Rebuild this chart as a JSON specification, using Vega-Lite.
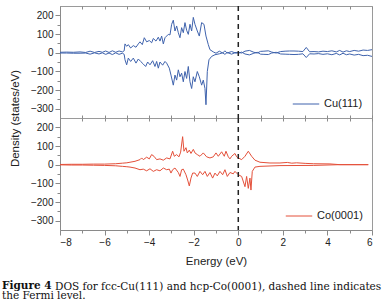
{
  "$schema": "https://vega.github.io/schema/vega-lite/v6.json",
  "padding": {"left": 1, "top": 4, "right": 12, "bottom": 2},
  "background": "white",
  "bounds": "flush",
  "datasets": {
    "cu": [
      {"s":"up","E":-8,"v":2},{"s":"up","E":-7.7,"v":3},{"s":"up","E":-7.4,"v":2},{"s":"up","E":-7.1,"v":4},{"s":"up","E":-6.85,"v":1},{"s":"up","E":-6.65,"v":8},{"s":"up","E":-6.45,"v":1},{"s":"up","E":-6.25,"v":7},{"s":"up","E":-6.1,"v":2},{"s":"up","E":-5.95,"v":9},{"s":"up","E":-5.8,"v":1},{"s":"up","E":-5.65,"v":10},{"s":"up","E":-5.5,"v":2},{"s":"up","E":-5.35,"v":9},{"s":"up","E":-5.2,"v":4},{"s":"up","E":-5.12,"v":10},
      {"s":"up","E":-5.084,"v":47},{"s":"up","E":-5.009,"v":34},{"s":"up","E":-4.935,"v":43},{"s":"up","E":-4.83,"v":25},{"s":"up","E":-4.71,"v":38},{"s":"up","E":-4.59,"v":29},{"s":"up","E":-4.486,"v":47},{"s":"up","E":-4.411,"v":58},{"s":"up","E":-4.307,"v":43},{"s":"up","E":-4.217,"v":80},{"s":"up","E":-4.112,"v":58},{"s":"up","E":-3.992,"v":65},{"s":"up","E":-3.887,"v":53},{"s":"up","E":-3.813,"v":76},{"s":"up","E":-3.693,"v":62},{"s":"up","E":-3.588,"v":83},{"s":"up","E":-3.514,"v":62},{"s":"up","E":-3.439,"v":89},{"s":"up","E":-3.364,"v":47},{"s":"up","E":-3.289,"v":80},{"s":"up","E":-3.215,"v":89},{"s":"up","E":-3.14,"v":98},{"s":"up","E":-3.065,"v":95},{"s":"up","E":-2.99,"v":152},{"s":"up","E":-2.916,"v":174},{"s":"up","E":-2.841,"v":116},{"s":"up","E":-2.766,"v":143},{"s":"up","E":-2.691,"v":107},{"s":"up","E":-2.617,"v":80},{"s":"up","E":-2.542,"v":134},{"s":"up","E":-2.467,"v":107},{"s":"up","E":-2.392,"v":161},{"s":"up","E":-2.318,"v":120},{"s":"up","E":-2.243,"v":98},{"s":"up","E":-2.168,"v":152},{"s":"up","E":-2.093,"v":116},{"s":"up","E":-2.019,"v":189},{"s":"up","E":-1.944,"v":152},{"s":"up","E":-1.839,"v":116},{"s":"up","E":-1.749,"v":89},{"s":"up","E":-1.644,"v":161},{"s":"up","E":-1.54,"v":152},{"s":"up","E":-1.45,"v":89},{"s":"up","E":-1.345,"v":43},{"s":"up","E":-1.271,"v":16},{"s":"up","E":-1.121,"v":4},
      {"s":"up","E":-1.0,"v":-3},{"s":"up","E":-0.85,"v":8},{"s":"up","E":-0.7,"v":-2},{"s":"up","E":-0.6,"v":10},{"s":"up","E":-0.5,"v":-2},{"s":"up","E":-0.3,"v":6},{"s":"up","E":-0.1,"v":-3},{"s":"up","E":0.0,"v":2},{"s":"up","E":0.15,"v":-2},{"s":"up","E":0.3,"v":8},{"s":"up","E":0.5,"v":12},{"s":"up","E":0.7,"v":2},{"s":"up","E":0.85,"v":-2},{"s":"up","E":1.0,"v":7},{"s":"up","E":1.15,"v":8},{"s":"up","E":1.35,"v":10},{"s":"up","E":1.5,"v":3},{"s":"up","E":1.7,"v":-2},{"s":"up","E":1.9,"v":6},{"s":"up","E":2.1,"v":8},{"s":"up","E":2.3,"v":9},{"s":"up","E":2.5,"v":9},{"s":"up","E":2.7,"v":8},{"s":"up","E":2.9,"v":6},{"s":"up","E":3.05,"v":28},{"s":"up","E":3.2,"v":5},{"s":"up","E":3.4,"v":6},{"s":"up","E":3.6,"v":4},{"s":"up","E":3.8,"v":8},{"s":"up","E":4.0,"v":6},{"s":"up","E":4.2,"v":10},{"s":"up","E":4.4,"v":4},{"s":"up","E":4.55,"v":12},{"s":"up","E":4.7,"v":3},{"s":"up","E":4.85,"v":10},{"s":"up","E":5.0,"v":6},{"s":"up","E":5.2,"v":12},{"s":"up","E":5.4,"v":8},{"s":"up","E":5.6,"v":14},{"s":"up","E":5.8,"v":12},{"s":"up","E":6.0,"v":16},
      {"s":"dn","E":-8,"v":-2},{"s":"dn","E":-7.7,"v":-2},{"s":"dn","E":-7.4,"v":-3},{"s":"dn","E":-7.1,"v":-3},{"s":"dn","E":-6.85,"v":-2},{"s":"dn","E":-6.65,"v":-8},{"s":"dn","E":-6.45,"v":-1},{"s":"dn","E":-6.25,"v":-7},{"s":"dn","E":-6.1,"v":-1},{"s":"dn","E":-5.95,"v":-9},{"s":"dn","E":-5.8,"v":-2},{"s":"dn","E":-5.65,"v":-10},{"s":"dn","E":-5.5,"v":-1},{"s":"dn","E":-5.35,"v":-9},{"s":"dn","E":-5.2,"v":-3},{"s":"dn","E":-5.12,"v":-9},
      {"s":"dn","E":-5.084,"v":-38},{"s":"dn","E":-5.009,"v":-65},{"s":"dn","E":-4.935,"v":-29},{"s":"dn","E":-4.83,"v":-47},{"s":"dn","E":-4.71,"v":-29},{"s":"dn","E":-4.59,"v":-56},{"s":"dn","E":-4.486,"v":-34},{"s":"dn","E":-4.381,"v":-47},{"s":"dn","E":-4.262,"v":-61},{"s":"dn","E":-4.157,"v":-74},{"s":"dn","E":-4.067,"v":-50},{"s":"dn","E":-3.962,"v":-65},{"s":"dn","E":-3.843,"v":-43},{"s":"dn","E":-3.738,"v":-74},{"s":"dn","E":-3.663,"v":-47},{"s":"dn","E":-3.588,"v":-83},{"s":"dn","E":-3.514,"v":-50},{"s":"dn","E":-3.394,"v":-67},{"s":"dn","E":-3.289,"v":-47},{"s":"dn","E":-3.215,"v":-56},{"s":"dn","E":-3.095,"v":-83},{"s":"dn","E":-3.02,"v":-120},{"s":"dn","E":-2.916,"v":-174},{"s":"dn","E":-2.841,"v":-120},{"s":"dn","E":-2.766,"v":-147},{"s":"dn","E":-2.691,"v":-92},{"s":"dn","E":-2.617,"v":-129},{"s":"dn","E":-2.542,"v":-110},{"s":"dn","E":-2.467,"v":-156},{"s":"dn","E":-2.392,"v":-101},{"s":"dn","E":-2.318,"v":-138},{"s":"dn","E":-2.243,"v":-74},{"s":"dn","E":-2.168,"v":-156},{"s":"dn","E":-2.093,"v":-192},{"s":"dn","E":-2.019,"v":-129},{"s":"dn","E":-1.944,"v":-156},{"s":"dn","E":-1.839,"v":-101},{"s":"dn","E":-1.749,"v":-129},{"s":"dn","E":-1.644,"v":-174},{"s":"dn","E":-1.57,"v":-147},{"s":"dn","E":-1.495,"v":-192},{"s":"dn","E":-1.45,"v":-279},{"s":"dn","E":-1.39,"v":-101},{"s":"dn","E":-1.315,"v":-38},{"s":"dn","E":-1.196,"v":-20},{"s":"dn","E":-1.046,"v":-11},
      {"s":"dn","E":-0.85,"v":-6},{"s":"dn","E":-0.7,"v":-1},{"s":"dn","E":-0.6,"v":-9},{"s":"dn","E":-0.5,"v":1},{"s":"dn","E":-0.3,"v":-8},{"s":"dn","E":-0.1,"v":2},{"s":"dn","E":0.0,"v":-3},{"s":"dn","E":0.15,"v":3},{"s":"dn","E":0.3,"v":-7},{"s":"dn","E":0.5,"v":-12},{"s":"dn","E":0.7,"v":-3},{"s":"dn","E":0.85,"v":2},{"s":"dn","E":1.0,"v":-8},{"s":"dn","E":1.15,"v":-9},{"s":"dn","E":1.35,"v":-10},{"s":"dn","E":1.5,"v":-2},{"s":"dn","E":1.7,"v":2},{"s":"dn","E":1.9,"v":-7},{"s":"dn","E":2.1,"v":-8},{"s":"dn","E":2.3,"v":-9},{"s":"dn","E":2.5,"v":-10},{"s":"dn","E":2.7,"v":-9},{"s":"dn","E":2.9,"v":-6},{"s":"dn","E":3.05,"v":-26},{"s":"dn","E":3.2,"v":-6},{"s":"dn","E":3.4,"v":-7},{"s":"dn","E":3.6,"v":-5},{"s":"dn","E":3.8,"v":-9},{"s":"dn","E":4.0,"v":-6},{"s":"dn","E":4.2,"v":-11},{"s":"dn","E":4.4,"v":-4},{"s":"dn","E":4.55,"v":-12},{"s":"dn","E":4.7,"v":-3},{"s":"dn","E":4.85,"v":-11},{"s":"dn","E":5.0,"v":-7},{"s":"dn","E":5.2,"v":-13},{"s":"dn","E":5.4,"v":-9},{"s":"dn","E":5.6,"v":-16},{"s":"dn","E":5.8,"v":-14},{"s":"dn","E":6.0,"v":-20}
    ],
    "co": [
      {"s":"up","E":-8,"v":1},{"s":"up","E":-7.5,"v":2},{"s":"up","E":-7,"v":2},{"s":"up","E":-6.5,"v":3},{"s":"up","E":-6,"v":3},{"s":"up","E":-5.5,"v":5},{"s":"up","E":-5.2,"v":8},{"s":"up","E":-5.0,"v":10},
      {"s":"up","E":-4.86,"v":13},{"s":"up","E":-4.635,"v":18},{"s":"up","E":-4.411,"v":27},{"s":"up","E":-4.336,"v":36},{"s":"up","E":-4.261,"v":27},{"s":"up","E":-4.112,"v":40},{"s":"up","E":-3.992,"v":31},{"s":"up","E":-3.888,"v":54},{"s":"up","E":-3.783,"v":45},{"s":"up","E":-3.663,"v":27},{"s":"up","E":-3.514,"v":31},{"s":"up","E":-3.364,"v":24},{"s":"up","E":-3.215,"v":36},{"s":"up","E":-3.065,"v":31},{"s":"up","E":-2.945,"v":72},{"s":"up","E":-2.871,"v":45},{"s":"up","E":-2.766,"v":54},{"s":"up","E":-2.661,"v":42},{"s":"up","E":-2.587,"v":67},{"s":"up","E":-2.497,"v":150},{"s":"up","E":-2.437,"v":72},{"s":"up","E":-2.347,"v":91},{"s":"up","E":-2.287,"v":63},{"s":"up","E":-2.198,"v":78},{"s":"up","E":-2.123,"v":60},{"s":"up","E":-2.018,"v":82},{"s":"up","E":-1.943,"v":63},{"s":"up","E":-1.839,"v":54},{"s":"up","E":-1.719,"v":45},{"s":"up","E":-1.57,"v":63},{"s":"up","E":-1.42,"v":42},{"s":"up","E":-1.271,"v":36},{"s":"up","E":-1.121,"v":42},{"s":"up","E":-1.001,"v":63},{"s":"up","E":-0.897,"v":45},{"s":"up","E":-0.747,"v":69},{"s":"up","E":-0.628,"v":45},{"s":"up","E":-0.553,"v":72},{"s":"up","E":-0.448,"v":42},{"s":"up","E":-0.373,"v":31},{"s":"up","E":-0.298,"v":45},{"s":"up","E":-0.149,"v":60},{"s":"up","E":-0.074,"v":42},{"s":"up","E":0.0,"v":36},{"s":"up","E":0.15,"v":27},{"s":"up","E":0.3,"v":45},{"s":"up","E":0.449,"v":72},{"s":"up","E":0.599,"v":45},{"s":"up","E":0.748,"v":24},{"s":"up","E":0.973,"v":13},{"s":"up","E":1.421,"v":9},{"s":"up","E":1.87,"v":9},{"s":"up","E":2.2,"v":12},{"s":"up","E":2.4,"v":8},{"s":"up","E":2.618,"v":10},{"s":"up","E":3.0,"v":7},{"s":"up","E":3.366,"v":5},{"s":"up","E":4.113,"v":4},{"s":"up","E":4.562,"v":0},{"s":"up","E":5.833,"v":0},
      {"s":"dn","E":-8,"v":-1},{"s":"dn","E":-7.5,"v":-2},{"s":"dn","E":-7,"v":-2},{"s":"dn","E":-6.5,"v":-3},{"s":"dn","E":-6,"v":-4},{"s":"dn","E":-5.5,"v":-6},{"s":"dn","E":-5.2,"v":-9},{"s":"dn","E":-5.0,"v":-11},
      {"s":"dn","E":-4.86,"v":-13},{"s":"dn","E":-4.635,"v":-18},{"s":"dn","E":-4.411,"v":-27},{"s":"dn","E":-4.261,"v":-24},{"s":"dn","E":-4.112,"v":-33},{"s":"dn","E":-3.962,"v":-22},{"s":"dn","E":-3.813,"v":-36},{"s":"dn","E":-3.663,"v":-27},{"s":"dn","E":-3.514,"v":-33},{"s":"dn","E":-3.364,"v":-18},{"s":"dn","E":-3.215,"v":-27},{"s":"dn","E":-3.095,"v":-24},{"s":"dn","E":-3.02,"v":-45},{"s":"dn","E":-2.945,"v":-27},{"s":"dn","E":-2.841,"v":-18},{"s":"dn","E":-2.691,"v":-42},{"s":"dn","E":-2.616,"v":-63},{"s":"dn","E":-2.542,"v":-27},{"s":"dn","E":-2.467,"v":-24},{"s":"dn","E":-2.347,"v":-54},{"s":"dn","E":-2.272,"v":-82},{"s":"dn","E":-2.198,"v":-114},{"s":"dn","E":-2.123,"v":-72},{"s":"dn","E":-2.048,"v":-45},{"s":"dn","E":-1.943,"v":-45},{"s":"dn","E":-1.839,"v":-63},{"s":"dn","E":-1.719,"v":-36},{"s":"dn","E":-1.599,"v":-54},{"s":"dn","E":-1.495,"v":-36},{"s":"dn","E":-1.39,"v":-63},{"s":"dn","E":-1.271,"v":-42},{"s":"dn","E":-1.151,"v":-72},{"s":"dn","E":-1.046,"v":-45},{"s":"dn","E":-0.942,"v":-60},{"s":"dn","E":-0.822,"v":-36},{"s":"dn","E":-0.702,"v":-54},{"s":"dn","E":-0.598,"v":-27},{"s":"dn","E":-0.493,"v":-63},{"s":"dn","E":-0.373,"v":-42},{"s":"dn","E":-0.224,"v":-49},{"s":"dn","E":-0.149,"v":-36},{"s":"dn","E":0.0,"v":-54},{"s":"dn","E":0.15,"v":-63},{"s":"dn","E":0.3,"v":-118},{"s":"dn","E":0.374,"v":-63},{"s":"dn","E":0.449,"v":-127},{"s":"dn","E":0.524,"v":-72},{"s":"dn","E":0.569,"v":-136},{"s":"dn","E":0.628,"v":-36},{"s":"dn","E":0.748,"v":-13},{"s":"dn","E":0.973,"v":-9},{"s":"dn","E":1.87,"v":-5},{"s":"dn","E":3.366,"v":-4},{"s":"dn","E":4.562,"v":0},{"s":"dn","E":5.833,"v":0}
    ],
    "fermi": [{"E": 0}]
  },
  "title": {
    "text": "Figure 4",
    "subtitle": "the Fermi level.",
    "orient": "bottom",
    "anchor": "start",
    "frame": "bounds",
    "dx": -7,
    "font": "DejaVu Serif",
    "fontSize": 10.5,
    "fontWeight": "bold",
    "color": "#111",
    "subtitleFont": "DejaVu Serif",
    "subtitleFontSize": 10.5,
    "subtitleFontWeight": "normal",
    "subtitleColor": "#111",
    "subtitlePadding": 0,
    "offset": -12
  },
  "spacing": 0,
  "resolve": {"scale": {"color": "independent"}, "legend": {"color": "independent"}},
  "vconcat": [
    {
      "width": 312,
      "height": 112,
      "layer": [
        {
          "data": {"name": "cu"},
          "mark": {"type": "line", "strokeWidth": 1},
          "encoding": {
            "x": {"field": "E", "type": "quantitative", "scale": {"domain": [-8, 6], "nice": false},
                  "axis": {"orient": "bottom", "labels": false, "title": null, "values": [-8,-7,-6,-5,-4,-3,-2,-1,0,1,2,3,4,5,6], "tickSize": -3, "domain": false}},
            "y": {"field": "v", "type": "quantitative", "scale": {"domain": [-350, 250], "nice": false},
                  "axis": {"title": "Density (states/eV)", "titleY": 112, "titlePadding": 10,
                           "values": [-300,-250,-200,-150,-100,-50,0,50,100,150,200],
                           "labelExpr": "datum.value % 100 === 0 ? datum.label : ''",
                           "tickSize": {"condition": {"test": "datum.value % 100 === 0", "value": 5}, "value": 3}}},
            "detail": {"field": "s"},
            "color": {"datum": "Cu(111)", "scale": {"range": ["#3f63ad"]},
                      "legend": {"orient": "bottom-right", "title": null, "symbolType": "stroke", "symbolSize": 700, "symbolStrokeWidth": 1, "labelFontSize": 11, "labelFont": "Liberation Sans", "labelColor": "#222", "offset": 9}}
          }
        },
        {
          "data": {"name": "fermi"},
          "mark": {"type": "rule", "strokeDash": [5, 4], "strokeWidth": 1.5, "color": "#222"},
          "encoding": {
            "x": {"field": "E", "type": "quantitative",
                  "axis": {"orient": "top", "labels": false, "title": null, "values": [-8,-7,-6,-5,-4,-3,-2,-1,0,1,2,3,4,5,6], "tickSize": -3, "domain": false}}
          }
        }
      ]
    },
    {
      "width": 312,
      "height": 112,
      "title": {
        "text": "DOS for fcc-Cu(111) and hcp-Co(0001), dashed line indicates",
        "orient": "bottom",
        "anchor": "start",
        "frame": "group",
        "dx": -5,
        "offset": 15,
        "font": "DejaVu Serif",
        "fontSize": 10.5,
        "fontWeight": "normal",
        "color": "#111"
      },
      "layer": [
        {
          "data": {"name": "co"},
          "mark": {"type": "line", "strokeWidth": 1},
          "encoding": {
            "x": {"field": "E", "type": "quantitative", "scale": {"domain": [-8, 6], "nice": false},
                  "axis": {"orient": "bottom", "title": "Energy (eV)", "values": [-8,-7,-6,-5,-4,-3,-2,-1,0,1,2,3,4,5,6],
                           "labelExpr": "datum.value % 2 === 0 ? datum.label : ''",
                           "tickSize": {"condition": {"test": "datum.value % 2 === 0", "value": 5}, "value": 3}}},
            "y": {"field": "v", "type": "quantitative", "scale": {"domain": [-350, 250], "nice": false},
                  "axis": {"title": null,
                           "values": [-300,-250,-200,-150,-100,-50,0,50,100,150,200],
                           "labelExpr": "datum.value % 100 === 0 ? datum.label : ''",
                           "tickSize": {"condition": {"test": "datum.value % 100 === 0", "value": 5}, "value": 3}}},
            "detail": {"field": "s"},
            "color": {"datum": "Co(0001)", "scale": {"range": ["#e4503a"]},
                      "legend": {"orient": "bottom-right", "title": null, "symbolType": "stroke", "symbolSize": 700, "symbolStrokeWidth": 1, "labelFontSize": 11, "labelFont": "Liberation Sans", "labelColor": "#222", "offset": 9}}
          }
        },
        {
          "data": {"name": "fermi"},
          "mark": {"type": "rule", "strokeDash": [5, 4], "strokeWidth": 1.5, "color": "#222"},
          "encoding": {
            "x": {"field": "E", "type": "quantitative",
                  "axis": {"orient": "top", "labels": false, "title": null, "values": [-8,-7,-6,-5,-4,-3,-2,-1,0,1,2,3,4,5,6], "tickSize": -3, "domain": false}}
          }
        }
      ]
    }
  ],
  "config": {
    "view": {"stroke": "#9a9a9a", "strokeWidth": 1},
    "axis": {
      "grid": false,
      "domainColor": "#8a8a8a",
      "tickColor": "#8a8a8a",
      "labelColor": "#222",
      "labelFont": "Liberation Sans",
      "labelFontSize": 10,
      "labelPadding": 2,
      "titleFont": "Liberation Sans",
      "titleFontSize": 11.5,
      "titleFontWeight": "normal",
      "titleColor": "#222"
    },
    "axisX": {"titlePadding": 8}
  }
}
